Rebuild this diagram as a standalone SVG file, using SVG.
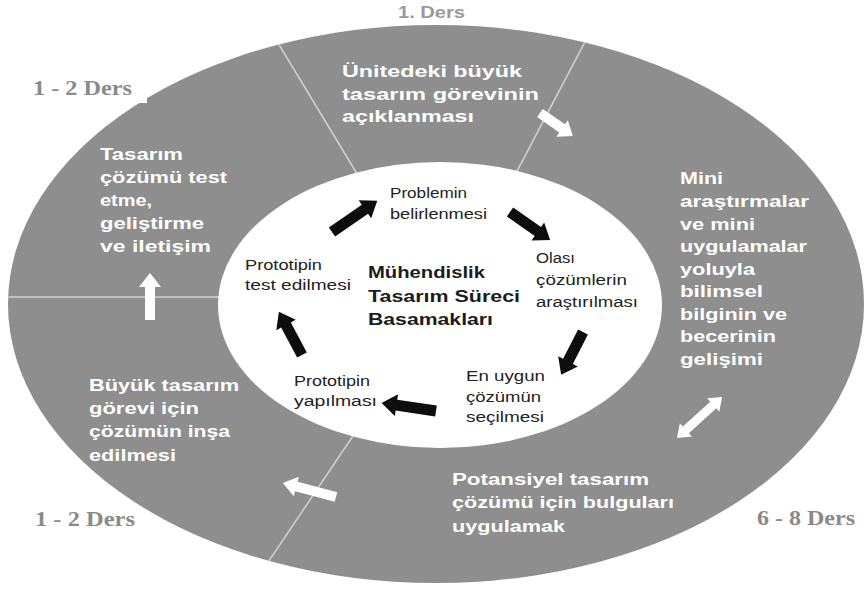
<svg xmlns="http://www.w3.org/2000/svg" width="864" height="590" viewBox="0 0 864 590">
  <style>
    .ring { fill: #8e8e8e; }
    .hole { fill: #ffffff; }
    .divider { stroke: #cfcfcf; stroke-width: 1.6; fill: none; }
    .rtext { font-family: "Liberation Sans", Arial, sans-serif; font-weight: bold; font-size: 16px; fill: #ffffff; }
    .itext { font-family: "Liberation Sans", Arial, sans-serif; font-size: 15.5px; fill: #222222; }
    .ttext { font-family: "Liberation Sans", Arial, sans-serif; font-weight: bold; font-size: 16.5px; fill: #1c1c1c; }
    .dur { font-family: "Liberation Serif", "Times New Roman", serif; font-weight: bold; font-size: 20px; fill: #8a8a8a; }
    .dur1 { font-family: "Liberation Sans", Arial, sans-serif; font-weight: bold; font-size: 16px; fill: #9a9a9a; }
    .blk { fill: #0d0d0d; }
    .wht { fill: #ffffff; }
  </style>
  <defs>
    <clipPath id="outerClip">
      <ellipse cx="436" cy="304" rx="428" ry="279"/>
    </clipPath>
  </defs>

  <!-- outer ring and inner disc -->
  <g id="ring">
    <ellipse class="ring" cx="436" cy="304" rx="428" ry="279"/>
    <g clip-path="url(#outerClip)">
      <line class="divider" x1="252" y1="0" x2="362" y2="182"/>
      <line class="divider" x1="607" y1="0" x2="505" y2="194"/>
      <line class="divider" x1="0" y1="297" x2="232" y2="297"/>
      <line class="divider" x1="365" y1="418" x2="248" y2="592"/>
    </g>
    <ellipse class="hole" cx="440" cy="305" rx="222" ry="143"/>
  </g>

  <!-- white patch behind the top-left duration label -->
  <rect x="20" y="62" width="127" height="41" fill="#ffffff"/>

  <!-- duration labels -->
  <g id="durations">
    <text class="dur1" x="398" y="18" textLength="67" lengthAdjust="spacingAndGlyphs">1. Ders</text>
    <text class="dur" x="33" y="95" textLength="99" lengthAdjust="spacingAndGlyphs">1 - 2 Ders</text>
    <text class="dur" x="35" y="526" textLength="100" lengthAdjust="spacingAndGlyphs">1 - 2 Ders</text>
    <text class="dur" x="757" y="525" textLength="98" lengthAdjust="spacingAndGlyphs">6 - 8 Ders</text>
  </g>

  <!-- outer ring stages -->
  <g id="stage-aciklama">
    <text class="rtext" x="342" y="77" textLength="180" lengthAdjust="spacingAndGlyphs">Ünitedeki büyük</text>
    <text class="rtext" x="342" y="100" textLength="197" lengthAdjust="spacingAndGlyphs">tasarım görevinin</text>
    <text class="rtext" x="342" y="122" textLength="132" lengthAdjust="spacingAndGlyphs">açıklanması</text>
  </g>
  <g id="stage-arastirma">
    <text class="rtext" x="680" y="184" textLength="43" lengthAdjust="spacingAndGlyphs">Mini</text>
    <text class="rtext" x="680" y="207" textLength="129" lengthAdjust="spacingAndGlyphs">araştırmalar</text>
    <text class="rtext" x="680" y="230" textLength="75" lengthAdjust="spacingAndGlyphs">ve mini</text>
    <text class="rtext" x="680" y="252" textLength="127" lengthAdjust="spacingAndGlyphs">uygulamalar</text>
    <text class="rtext" x="680" y="275" textLength="75" lengthAdjust="spacingAndGlyphs">yoluyla</text>
    <text class="rtext" x="680" y="297" textLength="83" lengthAdjust="spacingAndGlyphs">bilimsel</text>
    <text class="rtext" x="680" y="320" textLength="107" lengthAdjust="spacingAndGlyphs">bilginin ve</text>
    <text class="rtext" x="680" y="342" textLength="96" lengthAdjust="spacingAndGlyphs">becerinin</text>
    <text class="rtext" x="680" y="365" textLength="83" lengthAdjust="spacingAndGlyphs">gelişimi</text>
  </g>
  <g id="stage-uygulama">
    <text class="rtext" x="452" y="485" textLength="197" lengthAdjust="spacingAndGlyphs">Potansiyel tasarım</text>
    <text class="rtext" x="452" y="508" textLength="222" lengthAdjust="spacingAndGlyphs">çözümü için bulguları</text>
    <text class="rtext" x="452" y="532" textLength="113" lengthAdjust="spacingAndGlyphs">uygulamak</text>
  </g>
  <g id="stage-insa">
    <text class="rtext" x="89" y="391" textLength="150" lengthAdjust="spacingAndGlyphs">Büyük tasarım</text>
    <text class="rtext" x="89" y="414" textLength="110" lengthAdjust="spacingAndGlyphs">görevi için</text>
    <text class="rtext" x="89" y="437" textLength="141" lengthAdjust="spacingAndGlyphs">çözümün inşa</text>
    <text class="rtext" x="89" y="461" textLength="87" lengthAdjust="spacingAndGlyphs">edilmesi</text>
  </g>
  <g id="stage-test">
    <text class="rtext" x="100" y="160" textLength="83" lengthAdjust="spacingAndGlyphs">Tasarım</text>
    <text class="rtext" x="100" y="183" textLength="127" lengthAdjust="spacingAndGlyphs">çözümü test</text>
    <text class="rtext" x="100" y="206" textLength="52" lengthAdjust="spacingAndGlyphs">etme,</text>
    <text class="rtext" x="100" y="229" textLength="104" lengthAdjust="spacingAndGlyphs">geliştirme</text>
    <text class="rtext" x="100" y="252" textLength="111" lengthAdjust="spacingAndGlyphs">ve iletişim</text>
  </g>

  <!-- inner cycle steps -->
  <g id="title">
    <text class="ttext" x="368" y="278" textLength="117" lengthAdjust="spacingAndGlyphs">Mühendislik</text>
    <text class="ttext" x="368" y="302" textLength="152" lengthAdjust="spacingAndGlyphs">Tasarım Süreci</text>
    <text class="ttext" x="368" y="325" textLength="125" lengthAdjust="spacingAndGlyphs">Basamakları</text>
  </g>
  <g id="step-problem">
    <text class="itext" x="390" y="198" textLength="77" lengthAdjust="spacingAndGlyphs">Problemin</text>
    <text class="itext" x="390" y="219" textLength="97" lengthAdjust="spacingAndGlyphs">belirlenmesi</text>
  </g>
  <g id="step-cozumler">
    <text class="itext" x="536" y="263" textLength="39" lengthAdjust="spacingAndGlyphs">Olası</text>
    <text class="itext" x="536" y="285" textLength="91" lengthAdjust="spacingAndGlyphs">çözümlerin</text>
    <text class="itext" x="536" y="307" textLength="102" lengthAdjust="spacingAndGlyphs">araştırılması</text>
  </g>
  <g id="step-secim">
    <text class="itext" x="466" y="381" textLength="79" lengthAdjust="spacingAndGlyphs">En uygun</text>
    <text class="itext" x="466" y="402" textLength="75" lengthAdjust="spacingAndGlyphs">çözümün</text>
    <text class="itext" x="466" y="422" textLength="78" lengthAdjust="spacingAndGlyphs">seçilmesi</text>
  </g>
  <g id="step-yapim">
    <text class="itext" x="294" y="386" textLength="76" lengthAdjust="spacingAndGlyphs">Prototipin</text>
    <text class="itext" x="294" y="406" textLength="83" lengthAdjust="spacingAndGlyphs">yapılması</text>
  </g>
  <g id="step-test">
    <text class="itext" x="245" y="270" textLength="77" lengthAdjust="spacingAndGlyphs">Prototipin</text>
    <text class="itext" x="245" y="290" textLength="106" lengthAdjust="spacingAndGlyphs">test edilmesi</text>
  </g>

  <!-- connectors: block arrows, each drawn from its tail along +x -->
  <g id="connectors">
    <polygon class="blk" transform="translate(332,232) rotate(-34.6)" points="0,-5.5 40,-5.5 40,-11 55,0 40,11 40,5.5 0,5.5"/>
    <polygon class="blk" transform="translate(510,212) rotate(35)" points="0,-5.5 34,-5.5 34,-11 49,0 34,11 34,5.5 0,5.5"/>
    <polygon class="blk" transform="translate(583,332) rotate(117.1)" points="0,-5.5 33,-5.5 33,-11 48,0 33,11 33,5.5 0,5.5"/>
    <polygon class="blk" transform="translate(436,411) rotate(188.4)" points="0,-5.5 40,-5.5 40,-11 55,0 40,11 40,5.5 0,5.5"/>
    <polygon class="blk" transform="translate(302,355) rotate(-118.1)" points="0,-5.5 34,-5.5 34,-11 49,0 34,11 34,5.5 0,5.5"/>

    <polygon class="wht" transform="translate(540,113) rotate(34.9)" points="0,-5 27,-5 27,-10 40,0 27,10 27,5 0,5"/>
    <polygon class="wht" transform="translate(677,438) rotate(-42.3)" points="0,0 12,-9 12,-4.5 49,-4.5 49,-9 61,0 49,9 49,4.5 12,4.5 12,9"/>
    <polygon class="wht" transform="translate(336,497) rotate(194.8)" points="0,-5 41,-5 41,-10 55,0 41,10 41,5 0,5"/>
    <polygon class="wht" transform="translate(150,320) rotate(-90)" points="0,-5 33,-5 33,-11 47,0 33,11 33,5 0,5"/>
  </g>
</svg>
